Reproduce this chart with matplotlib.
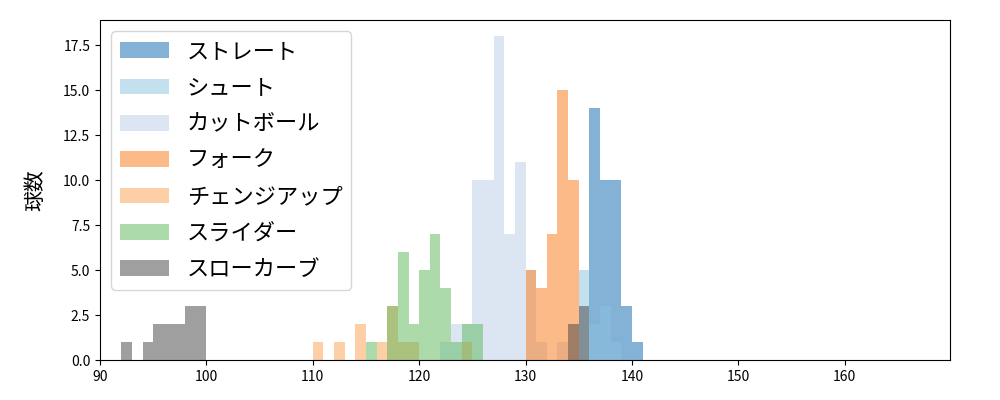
import numpy as np
import matplotlib.pyplot as plt

plt.rcParams['font.family'] = ['Noto Sans CJK JP', 'DejaVu Sans']

labels = ['ストレート', 'シュート', 'カットボール', 'フォーク', 'チェンジアップ', 'スライダー', 'スローカーブ']
colors = ['#0b67b1', '#8bc1dd', '#b9cfe7', '#fb7715', '#fba151', '#5bb759', '#414141']

# speed bin (left edge, km/h) and count
straight_v = [136, 137, 138, 139, 140]
straight_n = [14, 10, 10, 3, 1]
shoot_v = [135, 136, 137, 138]
shoot_n = [5, 2, 3, 1]
cut_v = [122, 123, 124, 125, 126, 127, 128, 129, 130, 131, 133]
cut_n = [1, 2, 2, 10, 10, 18, 7, 11, 5, 1, 1]
fork_v = [130, 131, 132, 133, 134]
fork_n = [5, 4, 7, 15, 10]
change_v = [110, 112, 114, 116, 117, 118, 119, 124]
change_n = [1, 1, 2, 1, 3, 1, 1, 1]
slider_v = [115, 117, 118, 119, 120, 121, 122, 123, 124, 125]
slider_n = [1, 3, 6, 2, 5, 7, 4, 1, 2, 2]
slow_v = [92, 94, 95, 96, 97, 98, 99, 134, 135]
slow_n = [1, 1, 2, 2, 2, 3, 3, 2, 3]

series = [(straight_v, straight_n), (shoot_v, shoot_n), (cut_v, cut_n), (fork_v, fork_n),
          (change_v, change_n), (slider_v, slider_n), (slow_v, slow_n)]

fig, ax = plt.subplots(figsize=(10, 4), dpi=100)
bins = np.arange(90, 171)
for (v, n), lab, c in zip(series, labels, colors):
    ax.hist(np.array(v) + 0.5, bins=bins, weights=n, color=c, alpha=0.5, label=lab)

ax.set_xlim(90, 169.9)
ax.set_ylabel('球数', fontsize=15, labelpad=12)
ax.legend(loc='upper left', fontsize=16, labelspacing=0.6, handlelength=2.2)
plt.subplots_adjust(left=0.1, right=0.95, top=0.95, bottom=0.1)
plt.savefig('out.png')
